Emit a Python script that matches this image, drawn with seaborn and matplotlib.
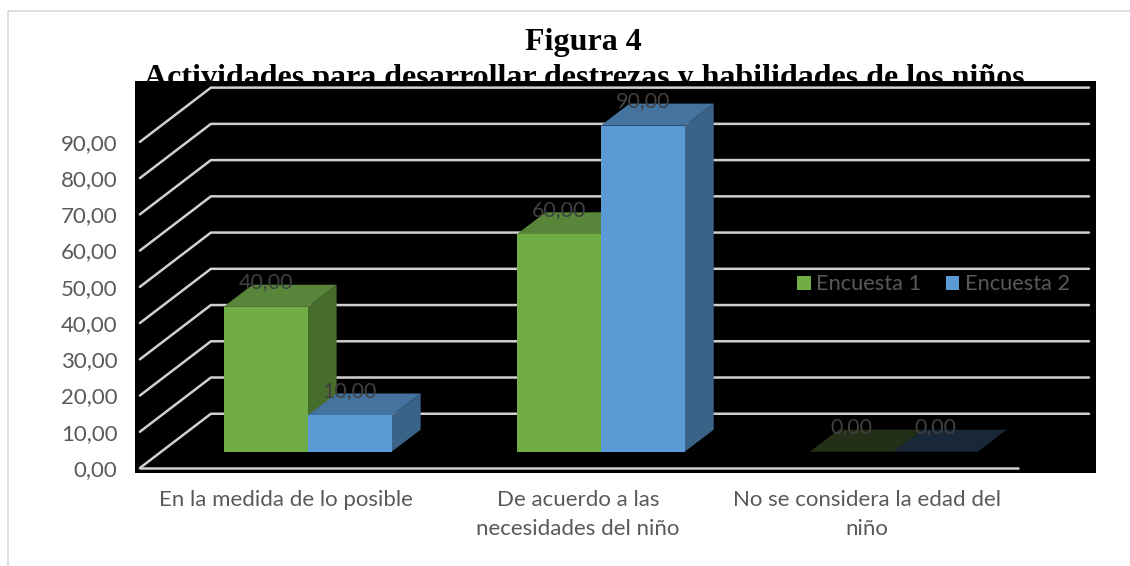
import pandas as pd
import matplotlib.pyplot as plt
from matplotlib.patches import Polygon
from matplotlib.lines import Line2D
import seaborn as sns

categories = ['En la medida de lo posible', 'De acuerdo a las\nnecesidades del niño', 'No se considera la edad del\nniño']
encuesta_1 = [40.0, 60.0, 0.0]
encuesta_2 = [10.0, 90.0, 0.0]
series_names = ['Encuesta 1', 'Encuesta 2']
ytick_values = [0, 10, 20, 30, 40, 50, 60, 70, 80, 90]
ytick_labels = ['0,00', '10,00', '20,00', '30,00', '40,00', '50,00', '60,00', '70,00', '80,00', '90,00']
title_lines = ['Figura 4', 'Actividades para desarrollar destrezas y habilidades de los niños']

front_colors = ['#70AD47', '#5B9BD5']
top_colors = ['#58853A', '#44739F']
side_colors = ['#476D2C', '#3A6387']
zero_colors = ['#232F17', '#192838']

W, H = 1130, 566

df = pd.DataFrame({
    'cat': categories * 2,
    'serie': [series_names[0]] * 3 + [series_names[1]] * 3,
    'valor': encuesta_1 + encuesta_2,
})

sns.set_style('white')
plt.rcParams['font.family'] = ['Lato', 'DejaVu Sans']

fig = plt.figure(figsize=(W / 100, H / 100), dpi=100)
fig.patch.set_facecolor('white')

# black plot area, in pixels of the picture
ax = fig.add_axes([135 / W, 1 - 473 / H, (1096 - 135) / W, (473 - 81) / H])
ax.set_zorder(5)
ax.set_facecolor('black')

bar_w = 84 / 293
sns.barplot(data=df, x='cat', y='valor', hue='serie', hue_order=series_names, palette=front_colors,
            width=bar_w * 2, gap=0, saturation=1, errorbar=None, linewidth=0, zorder=3, ax=ax)

ax.set_xlim(-0.589, 2.69)
ax.set_ylim(-5.88, 102.3)

# fake 3d: depth of the bars and of the floor, in data units
depth_x, depth_y = 29 / 293, 22 / 3.625
front_y, back_y = -4.5, 10.47
front_x, back_x, back_end = -0.5723, -0.33, 2.666
floor_end = 2.425

# every level runs up the side wall and then along the back wall
grid_style = dict(color='#D0D0D0', lw=1.8, zorder=1, solid_capstyle='round')
for level in ytick_values:
    ax.plot([front_x, back_x, back_end], [level + front_y, level + back_y, level + back_y], **grid_style)
ax.plot([front_x, floor_end], [front_y, front_y], **grid_style)

for s, values in enumerate([encuesta_1, encuesta_2]):
    for i, v in enumerate(values):
        x0 = i - bar_w + s * bar_w
        x1 = x0 + bar_w
        top_c = zero_colors[s] if v == 0 else top_colors[s]
        ax.add_patch(Polygon([(x1, 0), (x1 + depth_x, depth_y), (x1 + depth_x, v + depth_y), (x1, v)],
                             facecolor=side_colors[s], edgecolor='none', zorder=2 + s * 0.1))
        ax.add_patch(Polygon([(x0, v), (x1, v), (x1 + depth_x, v + depth_y), (x0 + depth_x, v + depth_y)],
                             facecolor=top_c, edgecolor='none', zorder=2.5 + s * 0.1))
        ax.annotate(f'{v:.2f}'.replace('.', ','), (x0 + bar_w / 2, v), xytext=(0, 17.6), textcoords='offset points',
                    ha='center', va='center', color='#404040', fontsize=15.5, zorder=6)

ax.set_xticks([-0.074, 0.923, 1.909])
ax.set_xticklabels(categories, color='#595959', fontsize=16, linespacing=1.54)
ax.set_yticks([v + front_y for v in ytick_values])
ax.set_yticklabels(ytick_labels, color='#595959', fontsize=16)
ax.tick_params(axis='x', length=0, pad=12.5)
ax.tick_params(axis='y', length=0, pad=12.6)
ax.set_xlabel('')
ax.set_ylabel('')
for side in ax.spines.values():
    side.set_visible(False)

handles, labels = ax.get_legend_handles_labels()
ax.legend(handles, labels, ncol=2, frameon=False, loc='center left', bbox_to_anchor=((797 - 135) / 961, (473 - 284.5) / 392),
          fontsize=15.7, labelcolor='#595959', handlelength=0.63, handleheight=0.63, handletextpad=0.25,
          columnspacing=1.12, borderaxespad=0, borderpad=0)

# the second title line runs under the black area, as in the original
fig.text(583 / W, 1 - 50 / H, title_lines[0], ha='center', va='baseline', family='Liberation Serif',
         fontweight='bold', fontsize=23, color='black', zorder=1)
fig.text(584 / W, 1 - 86 / H, title_lines[1], ha='center', va='baseline', family='Liberation Serif',
         fontweight='bold', fontsize=23, color='black', zorder=1)

# thin frame around the chart, open at right and bottom
fig.add_artist(Line2D([7.5 / W, 7.5 / W, 1], [0, 1 - 10.5 / H, 1 - 10.5 / H], color='#D9D9D9', lw=1.2))

fig.savefig('out.png', dpi=100)
